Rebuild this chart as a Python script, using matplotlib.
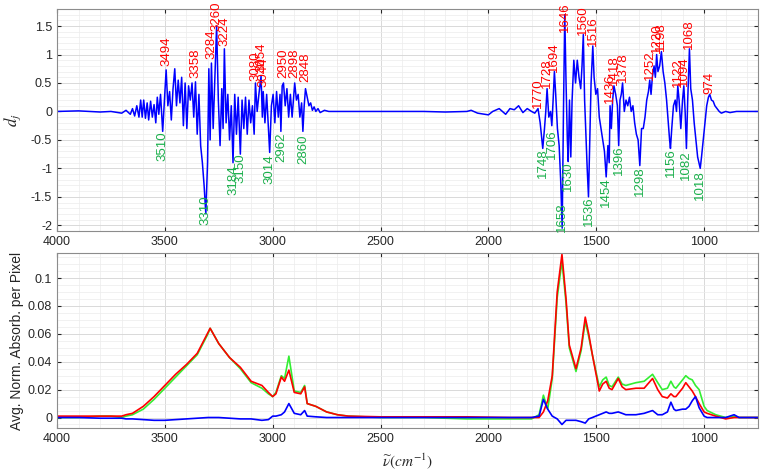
import numpy as np
import matplotlib
matplotlib.use("Agg")
import matplotlib.pyplot as plt
from matplotlib.ticker import MultipleLocator, FuncFormatter

plt.rcParams['font.family'] = ['Liberation Sans', 'DejaVu Sans']
plt.rcParams['axes.unicode_minus'] = False
plt.rcParams['mathtext.fontset'] = 'stix'

# ---- top panel: d_j loading (wavenumber, value) ----
dj_wn = [4000, 3900, 3800, 3750, 3700, 3680, 3660, 3650, 3640, 3630, 3620, 3612, 3605, 3598,
         3590, 3582, 3575, 3566, 3558, 3550, 3542, 3535, 3528, 3520, 3510, 3502, 3494, 3486,
         3478, 3470, 3462, 3454, 3446, 3438, 3430, 3422, 3414, 3406, 3398, 3390, 3382, 3374,
         3366, 3358, 3350, 3342, 3334, 3326, 3318, 3310, 3302, 3296, 3290, 3284, 3276, 3268,
         3260, 3252, 3244, 3236, 3230, 3224, 3216, 3208, 3200, 3192, 3184, 3176, 3168, 3160,
         3150, 3142, 3134, 3126, 3118, 3110, 3102, 3094, 3086, 3080, 3072, 3064, 3054, 3048,
         3044, 3036, 3028, 3020, 3014, 3006, 2998, 2990, 2982, 2974, 2966, 2962, 2956, 2950,
         2942, 2934, 2926, 2918, 2910, 2904, 2898, 2890, 2882, 2874, 2866, 2860, 2854, 2848,
         2840, 2832, 2824, 2816, 2808, 2800, 2790, 2780, 2760, 2740, 2700, 2500, 2300, 2200,
         2100, 2080, 2050, 2000, 1980, 1950, 1920, 1900, 1880, 1860, 1840, 1820, 1800, 1785,
         1770, 1760, 1748, 1740, 1734, 1728, 1720, 1712, 1706, 1700, 1694, 1688, 1680, 1672,
         1665, 1658, 1652, 1646, 1640, 1634, 1630, 1624, 1618, 1612, 1604, 1596, 1588, 1580,
         1572, 1566, 1560, 1554, 1548, 1542, 1536, 1530, 1524, 1516, 1510, 1502, 1494, 1486,
         1478, 1470, 1462, 1454, 1446, 1440, 1436, 1430, 1424, 1418, 1410, 1402, 1396, 1390,
         1384, 1378, 1370, 1362, 1354, 1346, 1338, 1330, 1322, 1314, 1306, 1298, 1290, 1282,
         1274, 1266, 1258, 1252, 1246, 1240, 1232, 1226, 1220, 1214, 1206, 1198, 1190, 1182,
         1174, 1166, 1160, 1156, 1150, 1142, 1134, 1128, 1122, 1116, 1108, 1100, 1094, 1088,
         1082, 1076, 1068, 1062, 1054, 1046, 1038, 1030, 1024, 1018, 1012, 1004, 996, 988,
         980, 974, 966, 958, 950, 940, 930, 920, 900, 880, 850, 800, 750]
dj_val = [0.0, 0.01, -0.01, 0.0, -0.03, 0.02, -0.05, 0.05, -0.08, 0.1, -0.1, 0.2, -0.1, 0.2,
          -0.12, 0.15, -0.15, 0.18, -0.1, 0.12, -0.2, 0.25, -0.05, 0.3, -0.35, 0.2, 0.73, 0.1,
          0.35, -0.15, 0.4, 0.75, 0.1, 0.55, 0.15, 0.6, -0.25, 0.5, -0.3, 0.45, 0.2, 0.5,
          -0.1, 0.52, -0.4, 0.3, -0.6, -0.9, -1.3, -1.8, -0.9, 0.75, -0.5, 0.85, -0.3, 0.6,
          1.5, 0.2, -0.6, 0.4, -0.3, 1.1, -0.2, 0.3, -0.5, 0.1, -0.9, 0.3, -0.4, 0.25,
          -0.75, 0.2, -0.3, 0.25, -0.4, 0.2, -0.2, 0.1, -0.4, 0.5, 0.0, 0.3, 0.62, -0.1,
          0.35, -0.2, 0.3, -0.3, -0.72, 0.1, 0.3, -0.2, 0.35, -0.1, 0.3, -0.35, 0.45, 0.5,
          0.1, 0.4, -0.1, 0.3, -0.1, 0.2, 0.5, 0.2, 0.3, -0.1, 0.15, -0.35, 0.1, 0.4,
          0.25, 0.1, 0.15, 0.02, 0.08, 0.0, 0.05, -0.02, 0.02, 0.0, 0.0, 0.0, 0.0, -0.01,
          0.0, 0.02, -0.03, -0.06, 0.0, 0.05, -0.05, 0.05, 0.03, 0.1, -0.02, 0.05, 0.0, -0.03,
          0.05, -0.2, -0.65, -0.3, 0.0, 0.4, -0.1, 0.0, -0.25, 0.2, 0.7, 0.3, -0.3, -0.6,
          -1.2, -2.05, 0.0, 1.7, 0.5, -0.5, -0.88, 0.2, -0.8, 0.2, 0.9, 0.5, 0.9, 0.6,
          0.4, 0.8, 1.35, 0.2, -0.4, -1.0, -1.5, -0.5, 0.5, 1.15, 0.6, 0.3, 0.4, -0.1,
          -0.3, -0.5, -0.7, -1.15, -0.6, -0.9, 0.1, -0.3, 0.2, 0.45, 0.3, 0.1, -0.6, 0.2,
          0.3, 0.5, 0.0, 0.2, 0.1, 0.25, 0.0, 0.1, -0.2, -0.4, -0.5, -0.95, -0.3, -0.3,
          -0.1, 0.2, 0.35, 0.55, 0.3, 0.6, 0.8, 0.6, 1.0, 0.7, 0.8, 1.05, 0.7, 0.5,
          0.2, -0.2, -0.5, -0.65, -0.3, 0.1, 0.2, 0.0, 0.45, 0.2, -0.3, 0.2, 0.45, 0.0,
          -0.65, 0.2, 1.1, 0.4, 0.2, -0.2, -0.5, -0.8, -0.9, -1.0, -0.8, -0.5, -0.2, 0.1,
          0.25, 0.3, 0.2, 0.18, 0.1, 0.05, 0.0, -0.03, 0.0, -0.02, 0.0, 0.0, 0.0]

# peak annotations: wavenumber and height where the label starts
pos_peaks = [3494, 3358, 3284, 3260, 3224, 3080, 3054, 3044, 2950, 2898, 2848,
             1770, 1728, 1694, 1646, 1560, 1516, 1436, 1418, 1378, 1252, 1220, 1198,
             1122, 1094, 1068, 974]
pos_y = [0.79, 0.58, 0.92, 1.41, 1.15, 0.53, 0.70, 0.43, 0.58, 0.58, 0.52,
         0.06, 0.42, 0.70, 1.39, 1.35, 1.15, 0.14, 0.47, 0.51, 0.56, 1.03, 1.06,
         0.43, 0.45, 1.10, 0.31]
neg_peaks = [3510, 3310, 3184, 3150, 3014, 2962, 2860,
             1748, 1706, 1658, 1630, 1536, 1454, 1396, 1298, 1156, 1082, 1018]
neg_y = [-0.35, -1.47, -0.94, -0.73, -0.76, -0.37, -0.41,
         -0.65, -0.32, -1.59, -0.88, -1.50, -1.15, -0.60, -0.96, -0.65, -0.68, -1.03]

# ---- bottom panel: average normalised absorbance per pixel ----
abs_wn = [4000, 3900, 3800, 3750, 3700, 3680, 3650, 3600, 3550, 3500, 3450, 3400, 3350, 3300,
          3290, 3250, 3200, 3150, 3100, 3050, 3020, 3000, 2985, 2960, 2945, 2925, 2900, 2870,
          2852, 2840, 2800, 2750, 2700, 2650, 2500, 2300, 2100, 1900, 1800, 1765, 1745, 1725,
          1704, 1681, 1659, 1640, 1625, 1594, 1570, 1551, 1535, 1518, 1486, 1470, 1454, 1440,
          1427, 1398, 1380, 1363, 1316, 1278, 1239, 1215, 1194, 1170, 1154, 1140, 1131, 1100,
          1085, 1070, 1055, 1040, 1023, 1000, 986, 946, 900, 861, 838, 750]
abs_red = [0.001, 0.001, 0.001, 0.001, 0.001, 0.002, 0.003, 0.008, 0.015, 0.023, 0.031, 0.038, 0.046, 0.061,
           0.064, 0.053, 0.043, 0.036, 0.026, 0.023, 0.018, 0.015, 0.017, 0.029, 0.026, 0.034, 0.018, 0.017,
           0.022, 0.010, 0.008, 0.004, 0.002, 0.001, 0.0005, 0.0005, 0.0005, 0.0, 0.0, 0.0, 0.004, 0.012,
           0.030, 0.090, 0.117, 0.085, 0.052, 0.035, 0.050, 0.072, 0.060, 0.045, 0.019, 0.024, 0.026, 0.021,
           0.020, 0.028, 0.022, 0.020, 0.021, 0.021, 0.028, 0.020, 0.015, 0.014, 0.017, 0.015, 0.015, 0.021,
           0.025, 0.022, 0.019, 0.015, 0.010, 0.004, 0.003, 0.001, -0.001, 0.0, 0.0, 0.0]
abs_green = [0.0, 0.0, 0.001, 0.001, 0.0, 0.001, 0.002, 0.006, 0.013, 0.021, 0.029, 0.037, 0.045, 0.060,
             0.064, 0.053, 0.043, 0.035, 0.025, 0.021, 0.017, 0.015, 0.018, 0.030, 0.028, 0.044, 0.019, 0.018,
             0.023, 0.010, 0.008, 0.004, 0.002, 0.001, 0.0, 0.0, -0.001, -0.001, -0.001, 0.002, 0.016, 0.006,
             0.028, 0.086, 0.112, 0.082, 0.050, 0.033, 0.048, 0.069, 0.058, 0.045, 0.022, 0.027, 0.029, 0.023,
             0.022, 0.029, 0.024, 0.023, 0.025, 0.026, 0.031, 0.025, 0.020, 0.021, 0.026, 0.022, 0.021, 0.027,
             0.030, 0.028, 0.027, 0.023, 0.020, 0.008, 0.005, 0.002, 0.0, 0.001, 0.0, 0.0]
abs_blue = [0.0, 0.0, -0.0005, -0.0005, -0.0005, -0.001, -0.001, -0.0015, -0.002, -0.002, -0.0015, -0.001, -0.0005, 0.0,
            0.0, 0.0, -0.0005, -0.001, -0.001, -0.002, -0.0015, 0.001, 0.001, 0.002, 0.004, 0.010, 0.003, 0.002,
            0.005, 0.001, 0.0005, 0.0, 0.0, 0.0, 0.0, 0.0, 0.0, 0.0, 0.0, 0.001, 0.013, 0.006,
            0.001, -0.001, -0.005, -0.002, -0.002, -0.002, -0.003, -0.004, -0.001, 0.0, 0.002, 0.003, 0.004, 0.003,
            0.003, 0.004, 0.003, 0.002, 0.002, 0.003, 0.005, 0.002, 0.002, 0.004, 0.011, 0.006, 0.005, 0.006,
            0.006, 0.008, 0.012, 0.015, 0.007, 0.001, 0.0, 0.0, 0.0, 0.002, 0.0, 0.0]

assert len(dj_wn) == len(dj_val)
assert len(abs_wn) == len(abs_red) == len(abs_green) == len(abs_blue)

txt_col = '#262626'
box_col = '#8c8c8c'


def matlab_style(ax):
    ax.set_xlim(4000, 750)
    ax.xaxis.set_major_locator(MultipleLocator(500))
    ax.xaxis.set_minor_locator(MultipleLocator(100))
    ax.grid(True, which='major', color='#d9d9d9', lw=0.7)
    ax.grid(True, which='minor', color='#ececec', lw=0.5)
    ax.set_axisbelow(True)
    ax.tick_params(which='both', direction='in', top=True, right=True,
                   colors=txt_col, labelsize=9, length=3)
    ax.tick_params(which='minor', length=0)
    for s in ax.spines.values():
        s.set_color(box_col)
        s.set_linewidth(0.8)
    ax.yaxis.set_major_formatter(FuncFormatter(lambda v, p: f'{v:g}'))


fig = plt.figure(figsize=(7.66, 4.75), dpi=100)
ax1 = fig.add_axes([0.0744, 0.5137, 0.9152, 0.4674])
ax2 = fig.add_axes([0.0744, 0.0990, 0.9152, 0.3684])

# top
ax1.plot(dj_wn, dj_val, color='#0000ff', lw=1.1)
matlab_style(ax1)
ax1.set_ylim(-2.1, 1.8)
ax1.yaxis.set_major_locator(MultipleLocator(0.5))
ax1.yaxis.set_minor_locator(MultipleLocator(0.1))
ax1.set_ylabel('$d_j$', fontsize=12, color=txt_col, labelpad=6)

for w, y in zip(pos_peaks, pos_y):
    ax1.text(w, y, str(w), rotation=90, ha='center', va='bottom',
             color='#ff0000', fontsize=9.5)
for w, y in zip(neg_peaks, neg_y):
    ax1.text(w, y, str(w), rotation=90, ha='center', va='top',
             color='#1aaf4b', fontsize=9.5)

# bottom
ax2.plot(abs_wn, abs_green, color='#33ee33', lw=1.2)
ax2.plot(abs_wn, abs_red, color='#ff0000', lw=1.2)
ax2.plot(abs_wn, abs_blue, color='#0000ff', lw=1.2)
matlab_style(ax2)
ax2.set_ylim(-0.0075, 0.118)
ax2.yaxis.set_major_locator(MultipleLocator(0.02))
ax2.yaxis.set_minor_locator(MultipleLocator(0.005))
ax2.set_ylabel('Avg. Norm. Absorb. per Pixel', fontsize=10, color=txt_col, labelpad=3)
ax2.set_xlabel(r'$\widetilde{\nu}(cm^{-1})$', fontsize=11, color=txt_col, labelpad=5)

fig.savefig('out.png', dpi=100)
